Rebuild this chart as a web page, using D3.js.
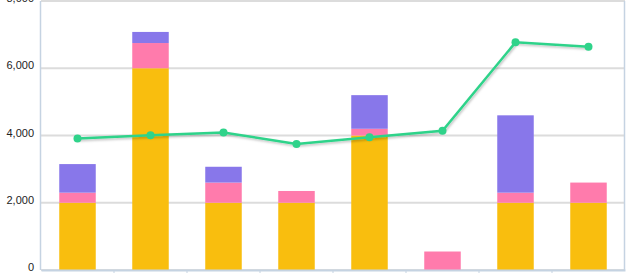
<!DOCTYPE html>
<html>
<head>
<meta charset="utf-8">
<script src="https://cdn.jsdelivr.net/npm/d3@7"></script>
<style>
  body { margin: 0; background: #fff; }
  svg { display: block; font-family: "DejaVu Sans", Verdana, sans-serif; }
</style>
</head>
<body>
<svg id="chart" width="628" height="273"></svg>
<script>
// chart values
const categories = ["A", "B", "C", "D", "E", "F", "G", "H"];
const seriesYellow = [2000, 6000, 2000, 2000, 4000, 0, 2000, 2000];
const seriesPink = [300, 750, 600, 350, 200, 550, 300, 600];
const seriesPurple = [850, 330, 470, 0, 1000, 0, 2300, 0];
const lineValues = [3910, 4010, 4090, 3750, 3950, 4140, 6770, 6640];
const yTicks = [0, 2000, 4000, 6000, 8000];

const svg = d3.select("#chart");
const margin = { top: 1, right: 3, bottom: 3, left: 41 };
const width = 628 - margin.left - margin.right;
const height = 273 - margin.top - margin.bottom;

const x = d3.scaleBand().domain(categories).range([0, width]).paddingInner(0.5).paddingOuter(0.25);
const y = d3.scaleLinear().domain([0, 8000]).range([height, 0]);

const g = svg.append("g").attr("transform", `translate(${margin.left},${margin.top})`);

// grid lines
g.selectAll(".grid")
  .data(yTicks)
  .enter()
  .append("line")
  .attr("x1", 0)
  .attr("x2", width)
  .attr("y1", d => y(d))
  .attr("y2", d => y(d))
  .attr("stroke", "#dcdcdc")
  .attr("stroke-width", 2);

// y labels, sitting a little above their grid line
const yAxis = g.append("g")
  .call(d3.axisLeft(y).tickValues(yTicks).tickSize(0).tickPadding(7).tickFormat(d3.format(",")));
yAxis.select(".domain").remove();
yAxis.selectAll("text").attr("font-size", 11).attr("fill", "#222").attr("dy", "0.05em");

// stacked bars
const rows = categories.map((c, i) => ({ cat: c, yellow: seriesYellow[i], pink: seriesPink[i], purple: seriesPurple[i] }));
const keys = ["yellow", "pink", "purple"];
const colors = { yellow: "#f9be0e", pink: "#ff7bac", purple: "#8877ea" };
const stack = d3.stack().keys(keys)(rows);

g.selectAll(".layer")
  .data(stack)
  .enter()
  .append("g")
  .attr("fill", d => colors[d.key])
  .selectAll("rect")
  .data(d => d)
  .enter()
  .append("rect")
  .attr("x", d => x(d.data.cat))
  .attr("y", d => y(d[1]))
  .attr("width", x.bandwidth())
  .attr("height", d => y(d[0]) - y(d[1]));

// axes lines
const axisColor = "#c5d3e2";
const xAxis = g.append("g")
  .attr("transform", `translate(0,${height})`)
  .call(d3.axisBottom(x).tickSize(0).tickFormat(""));
xAxis.select(".domain").attr("stroke", axisColor).attr("stroke-width", 2);

// tick marks between bands
g.selectAll(".xtick")
  .data(categories.slice(1))
  .enter()
  .append("line")
  .attr("x1", d => x(d) - x.step() * 0.25)
  .attr("x2", d => x(d) - x.step() * 0.25)
  .attr("y1", height)
  .attr("y2", height + 4)
  .attr("stroke", axisColor);

g.append("line")
  .attr("x1", -0.5).attr("x2", -0.5)
  .attr("y1", 0).attr("y2", height)
  .attr("stroke", axisColor).attr("stroke-width", 1.5);
g.append("line")
  .attr("x1", width - 0.5).attr("x2", width - 0.5)
  .attr("y1", 0).attr("y2", height)
  .attr("stroke", axisColor).attr("stroke-width", 1.5);

// line series with shadow
const defs = svg.append("defs");
const filter = defs.append("filter").attr("id", "shadow").attr("x", "-10%").attr("y", "-10%").attr("width", "120%").attr("height", "130%");
filter.append("feDropShadow").attr("dx", 1).attr("dy", 1.5).attr("stdDeviation", 1).attr("flood-color", "#000").attr("flood-opacity", 0.25);

const line = d3.line()
  .x((d, i) => x(categories[i]) + x.bandwidth() / 2)
  .y(d => y(d));

g.append("path")
  .datum(lineValues)
  .attr("d", line)
  .attr("fill", "none")
  .attr("stroke", "#2fd38a")
  .attr("stroke-width", 2.5)
  .attr("filter", "url(#shadow)");

g.selectAll(".dot")
  .data(lineValues)
  .enter()
  .append("circle")
  .attr("cx", (d, i) => x(categories[i]) + x.bandwidth() / 2)
  .attr("cy", d => y(d))
  .attr("r", 4)
  .attr("fill", "#2fd38a");
</script>
</body>
</html>
